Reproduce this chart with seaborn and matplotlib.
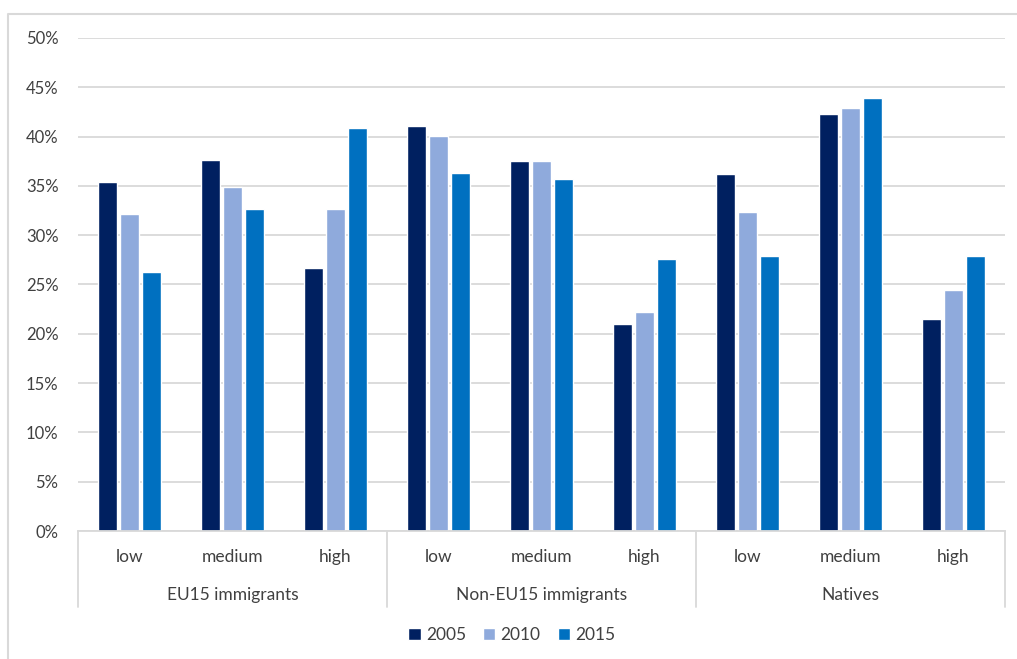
import matplotlib
matplotlib.use("Agg")
import matplotlib.pyplot as plt
import matplotlib.ticker as mticker
from matplotlib.lines import Line2D
from matplotlib.patches import Patch
import seaborn as sns
import pandas as pd

# Share of employment by education level, grouped by origin
groups = ["EU15 immigrants", "Non-EU15 immigrants", "Natives"]
levels = ["low", "medium", "high"]
years = ["2005", "2010", "2015"]

share_2005 = [35.4, 37.6, 26.7, 41.1, 37.5, 21.0, 36.2, 42.3, 21.5]
share_2010 = [32.2, 34.9, 32.7, 40.1, 37.5, 22.2, 32.4, 42.9, 24.4]
share_2015 = [26.3, 32.7, 40.9, 36.3, 35.7, 27.6, 27.9, 43.9, 27.9]

palette = ["#002060", "#8FAADC", "#0070C0"]

cats = [f"{g}|{l}" for g in groups for l in levels]
rows = []
for yr, vals in zip(years, [share_2005, share_2010, share_2015]):
    for c, v in zip(cats, vals):
        rows.append({"cat": c, "year": yr, "share": v / 100})
df = pd.DataFrame(rows)

sns.set_theme(style="white")
plt.rcParams["font.family"] = ["Lato", "DejaVu Sans"]
text_color = "#404040"
grid_color = "#D9D9D9"

fig = plt.figure(figsize=(10.17, 6.59), dpi=100)
W, H = 1017, 659
ax = fig.add_axes([78 / W, 1 - 531 / H, (1005 - 78) / W, (531 - 38) / H])

sns.barplot(data=df, x="cat", y="share", hue="year", order=cats,
            hue_order=years, palette=palette, width=0.63, gap=0.12,
            saturation=1, ax=ax, legend=False)

ax.set_ylim(0, 0.5)
ax.set_xlim(-0.5, len(cats) - 0.5)
ax.yaxis.set_major_locator(mticker.MultipleLocator(0.05))
ax.yaxis.set_major_formatter(mticker.PercentFormatter(1.0, decimals=0))
ax.grid(axis="y", color=grid_color, linewidth=1.3)
ax.set_axisbelow(True)
for s in ["top", "right", "left"]:
    ax.spines[s].set_visible(False)
ax.spines["bottom"].set_color(grid_color)
ax.spines["bottom"].set_linewidth(1.3)
ax.set_xlabel("")
ax.set_ylabel("")
ax.tick_params(axis="y", length=0, labelsize=12, labelcolor=text_color, pad=14)
ax.tick_params(axis="x", length=0, labelsize=12.5, labelcolor=text_color, pad=13)
ax.set_xticks(range(len(cats)))
ax.set_xticklabels([c.split("|")[1] for c in cats])

# Group labels and separators beneath the category axis
x0, x1 = 78 / W, 1005 / W
gw = (x1 - x0) / len(groups)
for i, g in enumerate(groups):
    fig.text(x0 + gw * (i + 0.5), 1 - 595 / H, g, ha="center", va="center",
             fontsize=12.5, color=text_color)
for i in range(len(groups) + 1):
    xs = x0 + gw * i
    fig.add_artist(Line2D([xs, xs], [1 - 531 / H, 1 - 607 / H],
                          transform=fig.transFigure, color=grid_color, lw=1.3))

# Chart frame
fig.add_artist(Line2D([8 / W, 8 / W, 1.0], [0.0, 1 - 14 / H, 1 - 14 / H],
                      transform=fig.transFigure, color=grid_color, lw=1.5))

handles = [Patch(facecolor=c, label=y) for c, y in zip(palette, years)]
fig.legend(handles=handles, loc="center", bbox_to_anchor=(512 / W, 1 - 635 / H),
           ncol=3, frameon=False, fontsize=12.5, handlelength=0.7,
           handleheight=0.7, handletextpad=0.3, columnspacing=1.0,
           labelcolor=text_color)

fig.savefig("out.png", dpi=100)
